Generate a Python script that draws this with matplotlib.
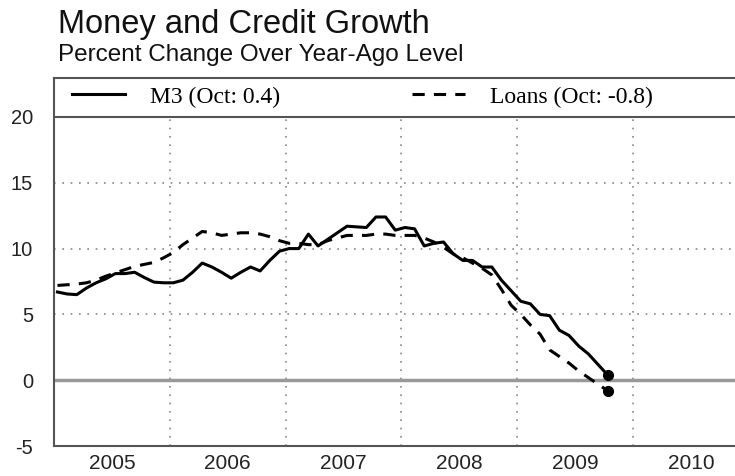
import numpy as np
import matplotlib
matplotlib.use("Agg")
import matplotlib.pyplot as plt
from matplotlib.lines import Line2D

# monthly data, Jan 2005 - Oct 2009
m3 = [6.7, 6.55, 6.5, 7.0, 7.4, 7.7, 8.1, 8.1, 8.2, 7.8, 7.45, 7.4,
      7.4, 7.6, 8.2, 8.9, 8.6, 8.2, 7.75, 8.2, 8.6, 8.3, 9.1, 9.8,
      10.0, 10.0, 11.1, 10.2, 10.7, 11.2, 11.7, 11.65, 11.6, 12.4, 12.4, 11.4,
      11.6, 11.5, 10.2, 10.4, 10.5, 9.6, 9.1, 9.1, 8.6, 8.6, 7.6, 6.8,
      6.0, 5.8, 5.0, 4.9, 3.8, 3.4, 2.6, 2.0, 1.2, 0.4]
loans = [7.2, 7.25, 7.3, 7.4, 7.6, 7.9, 8.15, 8.4, 8.65, 8.8, 8.95, 9.3,
         9.7, 10.3, 10.8, 11.3, 11.2, 11.0, 11.1, 11.2, 11.2, 11.1, 10.9, 10.6,
         10.4, 10.4, 10.3, 10.3, 10.6, 10.8, 11.0, 11.0, 11.0, 11.1, 11.1, 11.0,
         11.0, 11.0, 10.8, 10.5, 10.1, 9.6, 9.3, 8.9, 8.5, 8.0, 6.9, 5.7,
         5.0, 4.2, 3.5, 2.3, 1.8, 1.3, 0.7, 0.2, -0.3, -0.8]
years = [2005, 2006, 2007, 2008, 2009, 2010]
labels = ['M3 (Oct: 0.4)', 'Loans (Oct: -0.8)']

def main():
    plt.rcParams['axes.unicode_minus'] = False
    t = 2005 + np.arange(len(m3)) / 12.0 + 0.03

    fig = plt.figure(figsize=(7.35, 4.76), dpi=100)
    ax = fig.add_axes([54/735, 30/476, 681/735, 368/476])

    ax.set_xlim(2005, 2010.88)
    ax.set_ylim(-5, 22.96)

    grid_kw = dict(color='#888888', lw=1.2, ls=(0, (1, 4)), zorder=1)
    for y in [5, 10, 15]:
        ax.axhline(y, **grid_kw)
    for yr in years[1:]:
        ax.plot([yr, yr], [-5, 20], **grid_kw)
    ax.axhline(0, color='#999999', lw=2.5, zorder=2)
    ax.axhline(20, color='#555555', lw=1.5, zorder=2)

    ax.plot(t, m3, 'k-', lw=2.2, zorder=3)
    ax.plot(t, loans, 'k', ls=(0, (4, 3)), lw=2.2, zorder=3)
    ax.plot([t[-1], t[-1]], [m3[-1], loans[-1]], 'ko', ms=7, ls='none', zorder=4)

    ax.set_yticks([-5, 0, 5, 10, 15, 20])
    ax.set_xticks([y + 0.5 for y in years])
    ax.set_xticklabels([str(y) for y in years])
    ax.tick_params(axis='y', length=0, pad=15, labelsize=14.5)
    ax.tick_params(axis='x', length=0, pad=6, labelsize=15)
    for lab in ax.get_xticklabels() + ax.get_yticklabels():
        lab.set_family('Liberation Sans')
        lab.set_color('#222222')

    for s in ['left', 'bottom', 'top']:
        ax.spines[s].set_color('#555555')
        ax.spines[s].set_linewidth(1.5)
    ax.spines['right'].set_visible(False)

    handles = [Line2D([], [], color='k', lw=2.2),
               Line2D([], [], color='k', lw=2.2, ls=(0, (4, 3)))]
    ax.legend(handles, labels, ncol=2, loc='center left',
              bbox_to_anchor=(0.026, 0.9485), frameon=False,
              prop={'family': 'Liberation Serif', 'size': 17},
              handlelength=2.25, handletextpad=1.06, columnspacing=5.6,
              borderaxespad=0, borderpad=0)

    fig.text(58/735, 1 - 9/476, 'Money and Credit Growth', family='Liberation Sans',
             fontsize=23.5, va='top', ha='left', color='#111111')
    fig.text(58/735, 1 - 44/476, 'Percent Change Over Year-Ago Level',
             family='Liberation Sans', fontsize=17.5, va='top', ha='left', color='#111111')

    fig.savefig('out.png', dpi=100)

if __name__ == "__main__":
    main()
